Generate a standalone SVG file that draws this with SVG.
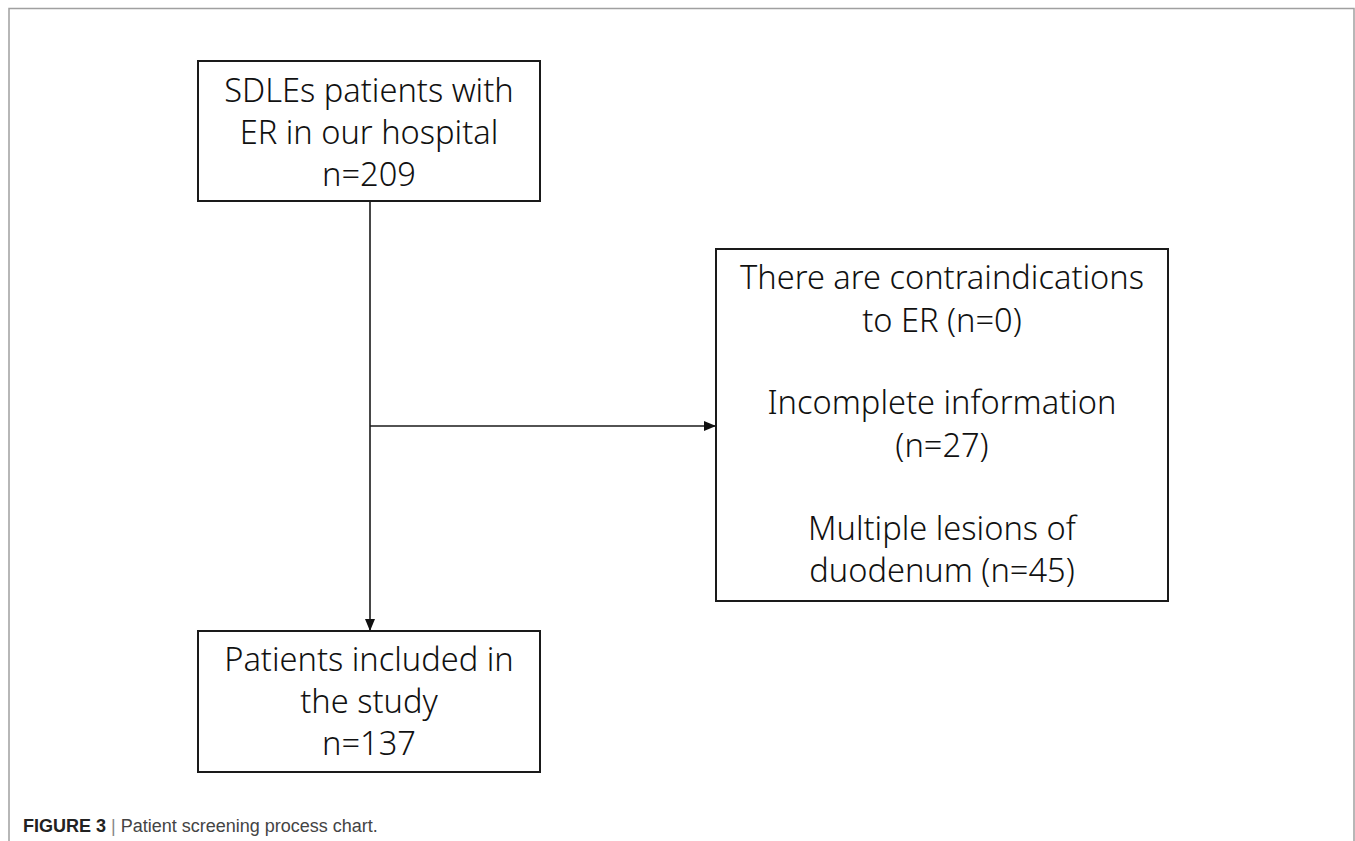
<svg xmlns="http://www.w3.org/2000/svg" width="1355" height="841" viewBox="0 0 1355 841">
<defs>
<style>
.box{fill:#fff;stroke:#1a1a1a;stroke-width:2}
.t{font-family:"Noto Sans","Open Sans",sans-serif;font-size:32.6px;font-weight:300;fill:#111;text-anchor:middle}
.conn{stroke:#1a1a1a;stroke-width:1.6;fill:none}
.frame{stroke:#a0a0a0;stroke-width:1.5;fill:none}
.cap{font-family:"Liberation Sans",Arial,sans-serif;font-size:18px;fill:#444}
</style>
<marker id="arr" viewBox="0 0 12 10" refX="12" refY="5" markerWidth="12" markerHeight="10" markerUnits="userSpaceOnUse" orient="auto">
<path d="M0,0 L12,5 L0,10 z" fill="#111"/>
</marker>
</defs>
<rect width="1355" height="841" fill="#fff"/>
<path class="frame" d="M9,841 V8.5 H1354 V841"/>
<g id="connectors">
<line class="conn" x1="370" y1="201" x2="370" y2="631" marker-end="url(#arr)"/>
<line class="conn" x1="370" y1="426" x2="716" y2="426" marker-end="url(#arr)"/>
</g>
<g id="node-start">
<rect class="box" x="198" y="61" width="342" height="140"/>
<text class="t" x="369" y="102">SDLEs patients with</text>
<text class="t" x="369" y="144">ER in our hospital</text>
<text class="t" x="369" y="186">n=209</text>
</g>
<g id="node-excluded">
<rect class="box" x="716" y="249" width="452" height="352"/>
<text class="t" x="942" y="289">There are contraindications</text>
<text class="t" x="942" y="332">to ER (n=0)</text>
<text class="t" x="942" y="414">Incomplete information</text>
<text class="t" x="942" y="457">(n=27)</text>
<text class="t" x="942" y="540">Multiple lesions of</text>
<text class="t" x="942" y="582">duodenum (n=45)</text>
</g>
<g id="node-included">
<rect class="box" x="198" y="631" width="342" height="141"/>
<text class="t" x="369" y="671">Patients included in</text>
<text class="t" x="369" y="713">the study</text>
<text class="t" x="369" y="755">n=137</text>
</g>
<g id="caption">
<text class="cap" x="23" y="832"><tspan font-weight="bold" fill="#222">FIGURE 3</tspan><tspan fill="#888"> | </tspan>Patient screening process chart.</text>
</g>
</svg>
